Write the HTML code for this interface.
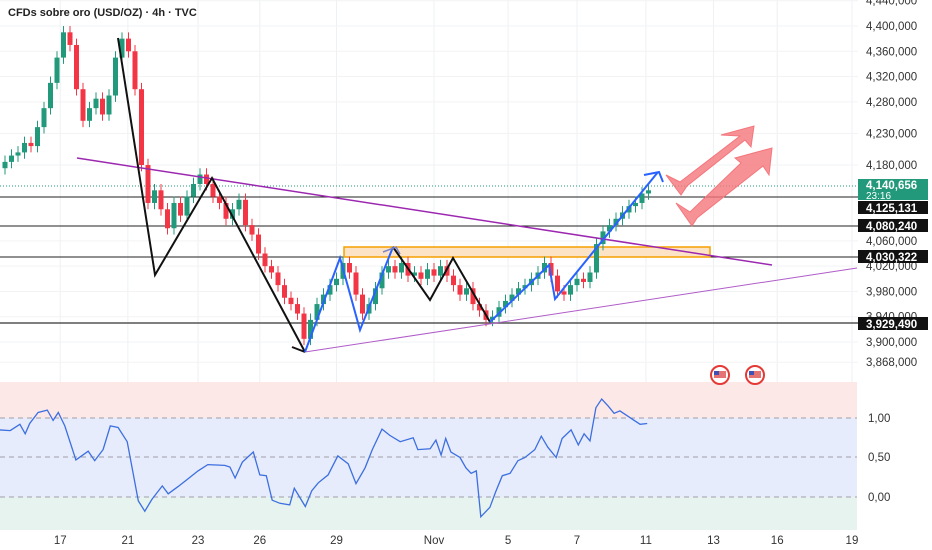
<!DOCTYPE html>
<html><head><meta charset="utf-8"><style>
html,body{margin:0;padding:0;background:#fff;}
svg{display:block;font-family:"Liberation Sans",sans-serif;}
</style></head><body>
<svg id="chart" width="932" height="550" viewBox="0 0 932 550" xmlns="http://www.w3.org/2000/svg">
<rect width="932" height="550" fill="#fff"/>
<g id="grid"></g>
<rect x="0" y="382" width="857" height="36" fill="#fde8e8"/>
<rect x="0" y="418" width="857" height="79" fill="#e6ecfb"/>
<rect x="0" y="497" width="857" height="33" fill="#e6f3ee"/>
<g stroke="#a0a0a8" stroke-dasharray="5,4" stroke-width="1">
<line x1="0" y1="418" x2="857" y2="418"/><line x1="0" y1="457" x2="857" y2="457"/><line x1="0" y1="497" x2="857" y2="497"/>
</g>
<g font-size="11.5" fill="#333">
<text x="868" y="422">1,00</text><text x="868" y="461">0,50</text><text x="868" y="501">0,00</text>
</g>
<line x1="0" y1="186" x2="858" y2="186" stroke="#22997a" stroke-dasharray="1,2"/>
<g stroke="#222" stroke-width="1">
<line x1="0" y1="197" x2="858" y2="197"/><line x1="0" y1="226" x2="858" y2="226"/>
<line x1="0" y1="257" x2="858" y2="257"/><line x1="0" y1="323" x2="858" y2="323" stroke="#555" stroke-width="1.5"/>
</g>
<rect x="344" y="247" width="366" height="10" fill="#fde3c6" stroke="#f5a000" stroke-width="1.5"/>
<g id="candles"></g>
<line x1="77" y1="158" x2="772" y2="265" stroke="#9c27b0" stroke-width="1.5"/>
<line x1="305" y1="352" x2="857" y2="268" stroke="#b05cc8" stroke-width="1"/>
<polyline points="118,38 155,275 212,178 305,352" fill="none" stroke="#111" stroke-width="2"/>
<polyline points="292,347 305,352" fill="none" stroke="#111" stroke-width="2"/>
<polyline points="393,247 430,300 453,258 490,322" fill="none" stroke="#111" stroke-width="2"/>
<polyline points="305,352 340,258 360,330 393,247" fill="none" stroke="#2962ff" stroke-width="2"/>
<polyline points="490,322 549,265 555,299 658,172" fill="none" stroke="#2962ff" stroke-width="2"/>
<polyline points="644,175 659,172 663,182" fill="none" stroke="#2962ff" stroke-width="2"/>
<polyline points="383,252 396,247 400,254" fill="none" stroke="#7a86c8" stroke-width="1.5"/>
<g fill="#f4767c" fill-opacity="0.8" stroke="#f4767c">
<polygon points="666,175 680,182 740,136 721,135 754,126 751,147 745,140 687,186 681,195"/>
</g>
<g fill="#f4767c" fill-opacity="0.8" stroke="#f4767c">
<polygon points="676,203 690,212 741,163 735,158 772,148 769,175 763,166 697,218 692,226"/>
</g>
<g>
<circle cx="720" cy="375" r="9" fill="#fff" stroke="#e53935" stroke-width="2"/><rect x="714" y="371" width="12" height="7" fill="#e57373"/><rect x="714" y="371" width="5" height="4" fill="#3f51b5"/>
<circle cx="755" cy="375" r="9" fill="#fff" stroke="#e53935" stroke-width="2"/><rect x="749" y="371" width="12" height="7" fill="#e57373"/><rect x="749" y="371" width="5" height="4" fill="#3f51b5"/>
</g>
<polyline id="osc-line" fill="none" stroke="#3d6fe0" stroke-width="1.3"/>
<g id="price-axis" font-size="11.5" fill="#333"></g>
<g font-size="11.5" font-weight="bold" fill="#fff">
<rect x="858" y="179" width="70" height="21" fill="#22997a"/>
<text x="866" y="189">4,140,656</text><text x="866" y="199" font-weight="normal" font-size="10">23:16</text>
<rect x="858" y="201" width="70" height="13" fill="#111"/><text x="866" y="212">4,125,131</text>
<rect x="858" y="219" width="70" height="13" fill="#111"/><text x="866" y="230">4,080,240</text>
<rect x="858" y="250" width="70" height="13" fill="#111"/><text x="866" y="261">4,030,322</text>
<rect x="858" y="317" width="70" height="13" fill="#111"/><text x="866" y="328">3,929,490</text>
</g>
<g id="time-axis" font-size="11.5" fill="#333" text-anchor="middle"></g>
<text x="8" y="16" font-size="11" font-weight="bold" fill="#222">CFDs sobre oro (USD/OZ) · 4h · TVC</text>
</svg>
<script>
const closes=[4185,4195,4200,4215,4210,4240,4270,4310,4350,4390,4370,4300,4250,4270,4285,4260,4290,4350,4380,4360,4300,4180,4120,4140,4110,4080,4120,4100,4130,4150,4165,4150,4130,4120,4095,4110,4125,4085,4070,4040,4020,4010,3990,3970,3960,3945,3905,3935,3960,3975,3990,4000,4025,4010,3975,3945,3960,3985,4010,4020,4010,4025,4005,4010,4000,4015,4005,4020,4005,3990,3975,3985,3960,3950,3935,3940,3955,3965,3975,3985,3990,4000,4010,4025,4005,3980,3975,3990,4000,3995,4010,4055,4075,4085,4095,4105,4115,4120,4135,4140];
const priceTicks=[4440,4400,4360,4320,4280,4230,4180,4060,4020,3980,3940,3900,3868];
const priceTickLabels=["4,440,000","4,400,000","4,360,000","4,320,000","4,280,000","4,230,000","4,180,000","4,060,000","4,020,000","3,980,000","3,940,000","3,900,000","3,868,000"];
const dateBars=[8.5,18.9,29.7,39.2,51,66,77.4,88,98.6,109,118.8,130.3];
const dateLabels=["17","21","23","26","29","Nov","5","7","11","13","16","19"];
const oscBars=[-0.8,0.8,2.3,3.1,3.8,5.1,6.5,7.4,8.2,9.2,10.9,12.8,13.8,15.1,16.2,17.4,18.8,20.5,21.5,22.6,24.2,25.1,26.6,28,29.7,31.2,33.8,34.6,35.4,36.5,38.2,39.2,40.2,41.1,42.3,43.8,44.5,46.2,47.2,48.2,49.7,51.2,52.8,54,55.4,56.5,58,59.2,60.8,62.8,63.5,65.4,66.3,67.1,67.8,68.6,70,70.9,71.7,72.5,73.2,74.6,75.5,76.5,77.7,78.9,80,81.5,82.5,83.5,84.8,85.7,87.1,88.2,89.1,90,90.9,91.8,92.8,93.7,94.6,95.5,96.8,97.7,98.8];
const oscValues=[0.85,0.84,0.92,0.8,0.93,1.07,1.1,0.97,1.07,0.9,0.47,0.58,0.46,0.6,0.9,0.88,0.7,-0.05,-0.18,-0.03,0.14,0.04,0.13,0.22,0.33,0.41,0.4,0.38,0.24,0.44,0.57,0.28,0.27,-0.04,-0.08,-0.1,0.11,-0.12,0.08,0.18,0.28,0.52,0.42,0.17,0.37,0.6,0.86,0.78,0.7,0.75,0.6,0.61,0.72,0.53,0.74,0.57,0.5,0.37,0.3,0.33,-0.25,-0.13,0.07,0.27,0.3,0.46,0.5,0.6,0.77,0.63,0.5,0.74,0.85,0.66,0.8,0.71,1.13,1.24,1.15,1.06,1.09,1.04,0.97,0.92,0.93];

const NS="http://www.w3.org/2000/svg";
const xOf=b=>5+b*6.5;
const yOf=v=>26+(4400-v)*0.632;
const yOsc=v=>497-v*79;
function mk(tag,attrs,parent){const e=document.createElementNS(NS,tag);for(const k in attrs)e.setAttribute(k,attrs[k]);parent.appendChild(e);return e;}

const grid=document.getElementById('grid');
dateBars.forEach(b=>{
  const l=mk('line',{x1:xOf(b),x2:xOf(b),y1:0,y2:530,stroke:'#eef0f3'},grid);
  
  
});
priceTicks.forEach(v=>{
  const l=mk('line',{x1:0,x2:858,y1:yOf(v),y2:yOf(v),stroke:'#f2f3f5'},grid);
  
  
});

const cg=document.getElementById('candles');
closes.forEach((c,i)=>{
  const o=i===0?c-10:closes[i-1];
  const up=c>=o;
  const col=up?'#22997a':'#f23645';
  const hi=Math.max(o,c)+10, lo=Math.min(o,c)-10;
  const x=xOf(i);
  const w=mk('line',{x1:x,x2:x,y1:yOf(hi),y2:yOf(lo),stroke:col,'stroke-width':1},cg);
  
  
  const top=yOf(Math.max(o,c)),h=Math.max(1.5,yOf(Math.min(o,c))-top);
  const r=mk('rect',{x:x-2.5,y:top,width:5,height:h,fill:col},cg);
  
  
});

document.getElementById('osc-line').setAttribute('points',oscValues.map((v,i)=>xOf(oscBars[i]).toFixed(1)+','+yOsc(v).toFixed(1)).join(' '));

const pa=document.getElementById('price-axis');
priceTicks.forEach((v,i)=>{
  const t=mk('text',{x:866,y:yOf(v)+4},pa);
  t.textContent=priceTickLabels[i];
  
  
});
const ta=document.getElementById('time-axis');
dateBars.forEach((b,i)=>{
  const t=mk('text',{x:xOf(b),y:544},ta);
  t.textContent=dateLabels[i];
  
  
});
</script>
</body></html>
